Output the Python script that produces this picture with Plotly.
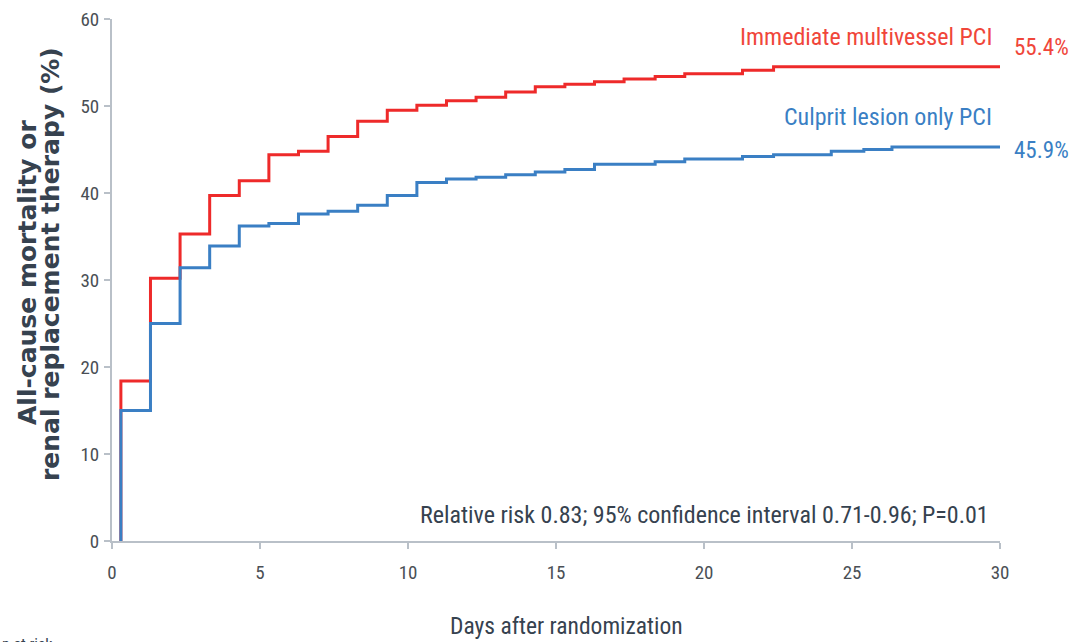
import plotly.graph_objects as go

# Event times (days after randomization) at which the curves step up
step_days = [0.3, 1.3, 2.3, 3.3, 4.3, 5.3, 6.3, 7.3, 8.3, 9.3, 10.3, 11.3, 12.3,
             13.3, 14.3, 15.3, 16.3, 17.3, 18.35, 19.35, 21.3, 22.35, 24.3, 25.4, 26.35]

# Cumulative event rate (%) after each step
multivessel = [18.4, 30.2, 35.3, 39.7, 41.4, 44.4, 44.8, 46.5, 48.25, 49.5, 50.1, 50.6, 51.0,
               51.6, 52.2, 52.5, 52.8, 53.1, 53.4, 53.7, 54.1, 54.5, 54.5, 54.5, 54.5]
culprit = [15.0, 25.0, 31.4, 33.9, 36.2, 36.5, 37.6, 37.9, 38.6, 39.7, 41.2, 41.6, 41.8,
           42.1, 42.4, 42.7, 43.3, 43.3, 43.6, 43.9, 44.2, 44.4, 44.8, 45.0, 45.3]

end_day = 30
x_ticks = [0, 5, 10, 15, 20, 25, 30]
y_ticks = [0, 10, 20, 30, 40, 50, 60]

RED = "#ee2a2a"
RED_TXT = "#f0463a"
BLUE = "#3a7fc4"
DARK = "#36424f"
NARROW = "Liberation Sans Narrow, Arial Narrow, Roboto Condensed, Liberation Sans, sans-serif"


def steps(days, vals):
    xs = [days[0]] + list(days) + [end_day]
    ys = [0] + list(vals) + [vals[-1]]
    return xs, ys


fig = go.Figure()
rx, ry = steps(step_days, multivessel)
bx, by = steps(step_days, culprit)
fig.add_trace(go.Scatter(x=rx, y=ry, mode="lines", line=dict(color=RED, width=3, shape="hv"),
                         name="Immediate multivessel PCI", showlegend=False))
fig.add_trace(go.Scatter(x=bx, y=by, mode="lines", line=dict(color=BLUE, width=3, shape="hv"),
                         name="Culprit lesion only PCI", showlegend=False))

axis_common = dict(showgrid=False, zeroline=False, showline=True, linecolor="#b9c0c8", linewidth=2,
                   ticks="outside", ticklen=6, tickcolor="#b9c0c8", tickwidth=1.5,
                   tickfont=dict(family=NARROW, size=19, color="#4a4f55"))

fig.update_xaxes(range=[0, end_day], tickvals=x_ticks, ticklabelstandoff=7, **axis_common)
fig.update_yaxes(range=[0, 60], tickvals=y_ticks, ticklabelstandoff=1, **axis_common)

W, H = 1071, 642
L, R, T, B = 112, 71, 19, 101
pw, ph = W - L - R, H - T - B


def px(xp):
    return (xp - L) / pw


def py(yp):
    return (H - B - yp) / ph


TITLE_FONT = dict(family="DejaVu Sans", size=25, color=DARK, weight="bold")

annotations = [
    dict(text="Immediate multivessel PCI", x=px(994), y=py(37), xanchor="right", yanchor="middle",
         font=dict(family=NARROW, size=24, color=RED_TXT)),
    dict(text="55.4%", x=px(1012), y=py(47), xanchor="left", yanchor="middle",
         font=dict(family=NARROW, size=23, color=RED_TXT)),
    dict(text="Culprit lesion only PCI", x=px(994), y=py(117), xanchor="right", yanchor="middle",
         font=dict(family=NARROW, size=24, color=BLUE)),
    dict(text="45.9%", x=px(1012), y=py(150), xanchor="left", yanchor="middle",
         font=dict(family=NARROW, size=23, color=BLUE)),
    dict(text="Relative risk 0.83; 95% confidence interval 0.71-0.96; P=0.01", x=px(991), y=py(515),
         xanchor="right", yanchor="middle", font=dict(family=NARROW, size=24, color=DARK)),
    dict(text="Days after randomization", x=px(566), y=py(626), xanchor="center", yanchor="middle",
         font=dict(family=NARROW, size=23.5, color=DARK)),
    dict(text="All-cause mortality or", x=px(27), y=py(272),
         xanchor="center", yanchor="middle", textangle=-90, font=TITLE_FONT),
    dict(text="renal replacement therapy (%)", x=px(50), y=py(264),
         xanchor="center", yanchor="middle", textangle=-90, font=TITLE_FONT),
    dict(text="n at risk", x=px(0), y=py(633), xanchor="left", yanchor="top",
         font=dict(family=NARROW, size=16, color=DARK)),
]
for a in annotations:
    a.update(xref="paper", yref="paper", showarrow=False)

fig.update_layout(width=W, height=H, margin=dict(l=L, r=R, t=T, b=B, autoexpand=False),
                  plot_bgcolor="white", paper_bgcolor="white", annotations=annotations)

fig.write_html("out.html", config={"displayModeBar": False},
               post_script="document.body.style.margin='0';document.body.style.overflow='hidden';")
